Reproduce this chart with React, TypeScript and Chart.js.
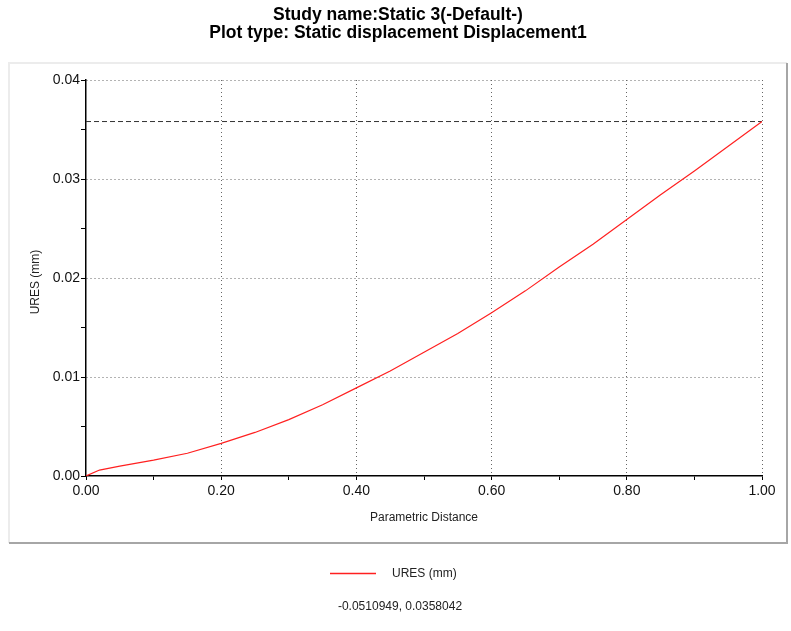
import React, { useEffect, useRef } from "react";
import { Chart, registerables } from "chart.js";

Chart.register(...registerables);

const titleLines = ["Study name:Static 3(-Default-)", "Plot type: Static displacement Displacement1"];
const xAxisTitle = "Parametric Distance";
const yAxisTitle = "URES (mm)";
const seriesLabel = "URES (mm)";
const footerText = "-0.0510949, 0.0358042";
const seriesColor = "#ff2020";

const distance = [0, 0.02, 0.05, 0.1, 0.15, 0.2, 0.25, 0.3, 0.35, 0.4, 0.45, 0.5, 0.55, 0.6, 0.65, 0.7, 0.75, 0.8, 0.85, 0.9, 0.95, 1.0];
const ures = [0, 0.0006, 0.001, 0.0016, 0.0023, 0.0033, 0.0044, 0.0057, 0.0072, 0.0089, 0.0106, 0.0125, 0.0144, 0.0165, 0.0187, 0.0211, 0.0234, 0.0259, 0.0284, 0.0308, 0.0333, 0.0358042];
const maxValue = 0.0358042;
const refLineX = [0, 1];

const decorPlugin = {
  id: "decor",
  beforeDraw(chart: any) {
    const ctx = chart.ctx;
    ctx.save();
    ctx.fillStyle = "#ffffff";
    ctx.fillRect(0, 0, chart.width, chart.height);
    ctx.strokeStyle = "#ececec";
    ctx.lineWidth = 2;
    ctx.beginPath();
    ctx.moveTo(9, 543);
    ctx.lineTo(9, 63);
    ctx.lineTo(787, 63);
    ctx.stroke();
    ctx.strokeStyle = "#a6a6a6";
    ctx.beginPath();
    ctx.moveTo(787, 63);
    ctx.lineTo(787, 543);
    ctx.lineTo(9, 543);
    ctx.stroke();
    ctx.restore();
  },
  afterDraw(chart: any) {
    const ctx = chart.ctx;
    const area = chart.chartArea;
    ctx.save();
    ctx.setLineDash([]);
    ctx.fillStyle = "#000";
    ctx.textAlign = "center";
    ctx.textBaseline = "middle";
    ctx.font = "bold 17.5px 'Liberation Sans', Arial, sans-serif";
    ctx.fillText(titleLines[0], 398, 15);
    ctx.fillText(titleLines[1], 398, 33);
    ctx.font = "12px 'Liberation Sans', Arial, sans-serif";
    ctx.fillStyle = "#222";
    ctx.fillText(xAxisTitle, (area.left + area.right) / 2, 518);
    ctx.save();
    ctx.translate(36, 282);
    ctx.rotate(-Math.PI / 2);
    ctx.fillText(yAxisTitle, 0, 0);
    ctx.restore();
    // legend
    ctx.strokeStyle = seriesColor;
    ctx.lineWidth = 1.3;
    ctx.beginPath();
    ctx.moveTo(330, 573.5);
    ctx.lineTo(376, 573.5);
    ctx.stroke();
    ctx.textAlign = "left";
    ctx.fillText(chart.data.datasets[0].label, 392, 574);
    ctx.textAlign = "center";
    ctx.fillText(footerText, 400, 607);
    ctx.restore();
  },
};

export default function App() {
  const ref = useRef<HTMLCanvasElement | null>(null);
  useEffect(() => {
    if (!ref.current) return;
    const isMajorX = (v: number) => Math.round(v * 100) % 20 === 0;
    const isMajorY = (v: number) => Math.round(v * 1000) % 10 === 0;
    const chart = new Chart(ref.current, {
      type: "line",
      data: {
        datasets: [
          {
            label: seriesLabel,
            data: distance.map((x, i) => ({ x, y: ures[i] })),
            borderColor: seriesColor,
            borderWidth: 1.2,
            pointRadius: 0,
            tension: 0,
            fill: false,
          },
          {
            label: "max",
            data: refLineX.map((x) => ({ x, y: maxValue })),
            borderColor: "#333",
            borderWidth: 1,
            borderDash: [5, 3],
            pointRadius: 0,
            fill: false,
          },
        ],
      },
      options: {
        responsive: false,
        animation: false,
        layout: { padding: { left: 0, top: 80, right: 29, bottom: 0 } },
        plugins: { legend: { display: false }, title: { display: false }, tooltip: { enabled: false } },
        scales: {
          x: {
            type: "linear",
            min: 0,
            max: 1,
            afterFit: (s: any) => { s.height = 155; },
            ticks: {
              stepSize: 0.1,
              autoSkip: false,
              maxRotation: 0,
              padding: 3,
              color: "#111",
              font: { size: 14, family: "'Liberation Sans', Arial, sans-serif" },
              callback: (v: any) => (isMajorX(Number(v)) ? Number(v).toFixed(2) : ""),
            },
            grid: {
              color: (c: any) => (c.tick && isMajorX(c.tick.value) && c.tick.value > 0 ? "#666" : "rgba(0,0,0,0)"),
              tickColor: "#000",
              tickLength: 4,
              lineWidth: 1,
            },
            border: { color: "#000", width: 1.5, dash: [1, 3] },
          },
          y: {
            type: "linear",
            min: 0,
            max: 0.04,
            afterFit: (s: any) => { s.width = 86; },
            ticks: {
              stepSize: 0.005,
              autoSkip: false,
              padding: 1,
              color: "#111",
              font: { size: 14, family: "'Liberation Sans', Arial, sans-serif" },
              callback: (v: any) => (isMajorY(Number(v)) ? Number(v).toFixed(2) : ""),
            },
            grid: {
              color: (c: any) => (c.tick && isMajorY(c.tick.value) && c.tick.value > 0 ? "#666" : "rgba(0,0,0,0)"),
              tickColor: "#000",
              tickLength: 5,
              lineWidth: 1,
            },
            border: { color: "#000", width: 1.5, dash: [1, 3] },
          },
        },
      },
      plugins: [decorPlugin],
    } as any);
    return () => chart.destroy();
  }, []);
  return (
    <div style={{ position: "absolute", left: 0, top: 0, width: 791, height: 631 }}>
      <canvas ref={ref} width={791} height={631} style={{ display: "block" }} />
    </div>
  );
}
